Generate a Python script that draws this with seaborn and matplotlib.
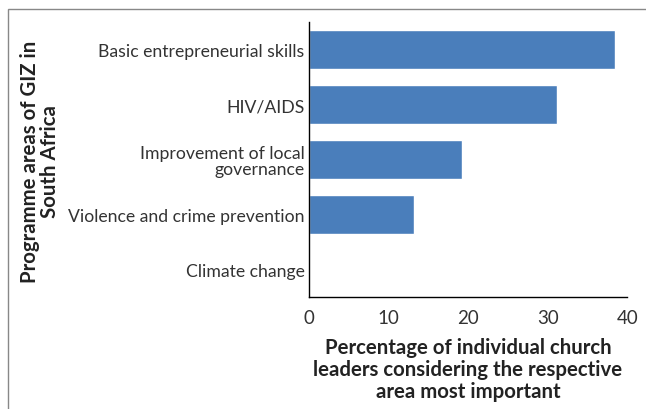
import pandas as pd
import matplotlib
matplotlib.use('Agg')
import matplotlib.pyplot as plt
import matplotlib.patches as mpatches
import seaborn as sns

# data
areas = ['Basic entrepreneurial skills', 'HIV/AIDS',
         'Improvement of local\ngovernance', 'Violence and crime prevention',
         'Climate change']
percent = [38.4, 31.2, 19.3, 13.2, 0.0]
x_ticks = [0, 10, 20, 30, 40]

df = pd.DataFrame({'area': areas, 'percent': percent})

sns.set_style('white')
plt.rcParams['font.family'] = ['Lato', 'DejaVu Sans']

fig = plt.figure(figsize=(6.46, 4.10), dpi=100)
ax = fig.add_axes([0.478, 0.272, 0.493, 0.671])

sns.barplot(data=df, x='percent', y='area', color='#4a7ebb', width=0.71,
            saturation=1, ax=ax)

ax.set_xlim(0, 40)
ax.set_xticks(x_ticks)
ax.tick_params(axis='x', direction='out', length=5, width=1, color='black',
               labelsize=13.5, labelcolor='#333333', pad=3)
ax.tick_params(axis='y', length=0, labelsize=12.7, labelcolor='#333333', pad=3)
for lbl in ax.get_yticklabels():
    lbl.set_multialignment('right')
    lbl.set_linespacing(1.0)
for side in ['top', 'right']:
    ax.spines[side].set_visible(False)
for side in ['left', 'bottom']:
    ax.spines[side].set_color('black')
    ax.spines[side].set_linewidth(1)

ax.set_xlabel('Percentage of individual church\nleaders considering the respective\narea most important',
              fontsize=14.7, fontweight='bold', color='#222222', linespacing=1.12, labelpad=8)
ax.set_ylabel('')
fig.text(0.062, 0.605, 'Programme areas of GIZ in\nSouth Africa', rotation=90,
         ha='center', va='center', fontsize=14.7, fontweight='bold',
         color='#222222', linespacing=1.0)

# outer frame
fig.patches.append(mpatches.Rectangle((7.5 / 646, -0.1), 1.2, 1 - 9.5 / 410 + 0.1,
                                      transform=fig.transFigure, fill=False,
                                      edgecolor='#888888', linewidth=1))

plt.savefig('out.png', dpi=100)
